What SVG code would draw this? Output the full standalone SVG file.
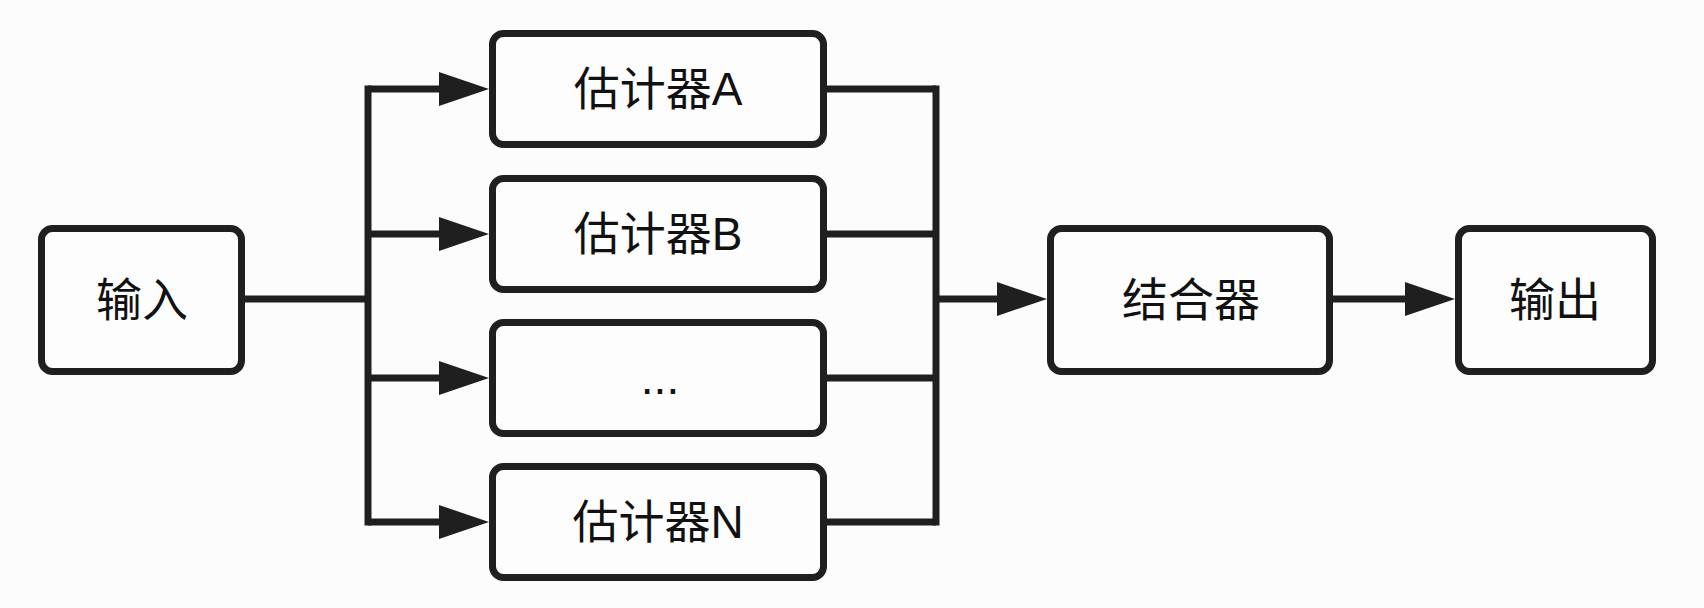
<svg xmlns="http://www.w3.org/2000/svg" width="1704" height="608" viewBox="0 0 1704 608">
  <style>
    .box { fill: #fdfdfd; stroke: #1f1f1f; stroke-width: 7; }
    .lbl { font-family: "Liberation Sans", "Noto Sans CJK SC", sans-serif; font-size: 46px; fill: #111; text-anchor: middle; dominant-baseline: central; }
    .wire { fill: none; stroke: #1f1f1f; stroke-width: 7; stroke-linejoin: miter; }
    .bus { stroke-linecap: square; }
    .arr { marker-end: url(#ah); }
  </style>
  <defs>
    <marker id="ah" markerUnits="userSpaceOnUse" markerWidth="50" markerHeight="34" viewBox="0 0 50 34" refX="3" refY="17" orient="auto">
      <path d="M0,0 L50,17 L0,34 Z" fill="#1f1f1f"/>
    </marker>
  </defs>
  <rect width="1704" height="608" fill="#fcfcfc"/>

  <g id="connectors">
    <path class="wire" d="M245,299 H368"/>
    <path class="wire bus" d="M368,89 V522"/>
    <path class="wire arr" d="M368,89 H442"/>
    <path class="wire arr" d="M368,234 H442"/>
    <path class="wire arr" d="M368,378 H442"/>
    <path class="wire arr" d="M368,522 H442"/>
    <path class="wire" d="M827,89 H936"/>
    <path class="wire" d="M827,234 H936"/>
    <path class="wire" d="M827,378 H936"/>
    <path class="wire" d="M827,522 H936"/>
    <path class="wire bus" d="M936,89 V522"/>
    <path class="wire arr" d="M936,299 H1000"/>
    <path class="wire arr" d="M1333,299 H1408"/>
  </g>

  <g id="input">
    <rect class="box" x="41.5" y="228.5" width="200" height="143" rx="11"/>
    <text class="lbl" x="142" y="300">输入</text>
  </g>
  <g id="estA">
    <rect class="box" x="492.5" y="33.5" width="331" height="111" rx="11"/>
    <text class="lbl" x="658" y="89">估计器A</text>
  </g>
  <g id="estB">
    <rect class="box" x="492.5" y="178.5" width="331" height="111" rx="11"/>
    <text class="lbl" x="658" y="234">估计器B</text>
  </g>
  <g id="estDots">
    <rect class="box" x="492.5" y="322.5" width="331" height="111" rx="11"/>
    <text class="lbl" x="660" y="378">...</text>
  </g>
  <g id="estN">
    <rect class="box" x="492.5" y="466.5" width="331" height="111" rx="11"/>
    <text class="lbl" x="658" y="522">估计器N</text>
  </g>
  <g id="combiner">
    <rect class="box" x="1050.5" y="228.5" width="279" height="143" rx="11"/>
    <text class="lbl" x="1191" y="300">结合器</text>
  </g>
  <g id="output">
    <rect class="box" x="1458.5" y="228.5" width="194" height="143" rx="11"/>
    <text class="lbl" x="1555" y="300">输出</text>
  </g>
</svg>
